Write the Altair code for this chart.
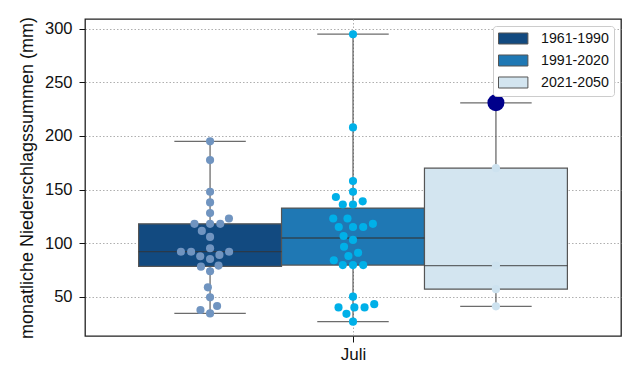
import math
import altair as alt
import pandas as pd

# ---- data ----
periods = ["1961-1990", "1991-2020", "2021-2050"]
juli_1961_1990 = [195, 177.5, 148, 138, 128, 123, 118, 118, 118, 111.4, 105.8, 95.2,
                  92, 92, 92, 89, 87.7, 85.2, 79, 78, 73.7, 58.7, 49.4, 41.3, 37.6, 34.4]
juli_1991_2020 = [295, 208, 158, 148, 143, 139, 136, 136, 123, 123, 118, 115, 115, 115,
                  106.6, 103, 96.6, 91, 88, 84, 79.5, 79.5, 79.5, 50, 43, 40, 40, 40, 34, 26.7]
juli_2021_2050 = [231, 170, 79, 57, 41]
highlight_period = "2021-2050"
highlight_value = 231
month_label = "Juli"
y_ticks = [50, 100, 150, 200, 250, 300]

box_colors = ["#124a80", "#1f78b4", "#d3e5f0"]
point_colors = ["#7094c0", "#00b0e8", "#cde2ef"]

# ---- layout ----
W, H = 536, 317
Y_DOM = [13.3, 309.2]
X_DOM = [-0.5, 0.5]
GW = 0.8 / 3  # width of one hue group

px_per_y = H / (Y_DOM[1] - Y_DOM[0])
x_per_px = (X_DOM[1] - X_DOM[0]) / W


def swarm_offsets(values, d=10.2):
    """Beeswarm placement (seaborn-like): returns x offsets in data units."""
    order = sorted(range(len(values)), key=lambda k: values[k])
    placed = []
    offs = [0.0] * len(values)
    for k in order:
        y = values[k] * px_per_y
        neigh = [(px, py) for px, py in placed if abs(py - y) < d]
        cands = [0.0]
        for px, py in neigh:
            dx = math.sqrt(max(d * d - (py - y) ** 2, 0))
            cands += [px + dx, px - dx]
        cands.sort(key=lambda c: (abs(c), c))
        for c in cands:
            if all((c - px) ** 2 + (y - py) ** 2 >= d * d - 1e-6 for px, py in neigh):
                break
        placed.append((c, y))
        offs[k] = c * x_per_px
    return offs


series = [juli_1961_1990, juli_1991_2020, juli_2021_2050]
rows = []
for i, (p, vals) in enumerate(zip(periods, series)):
    for v, o in zip(vals, swarm_offsets(vals)):
        rows.append({"period": p, "idx": i, "value": v, "swarm": o})
df = pd.DataFrame(rows)

hl = pd.DataFrame({"period": [highlight_period],
                   "idx": [periods.index(highlight_period)],
                   "value": [highlight_value]})

FONT = "Liberation Sans"
LINE = "#333333"
LINE_OP = 0.72
YTITLE = "monatliche Niederschlagssummen (mm)"

xscale = alt.Scale(domain=X_DOM, nice=False, zero=False)
yscale = alt.Scale(domain=Y_DOM, nice=False, zero=False)

xaxis = alt.Axis(values=[0], labelExpr=f"'{month_label}'", title=None, grid=True,
                 gridDash=[1.5, 2], gridColor="#9a9a9a", gridWidth=0.8,
                 tickSize=6, tickColor="#111", labelFontSize=17, labelFont=FONT,
                 labelColor="#111", labelPadding=4, domain=False)
yaxis = alt.Axis(values=y_ticks, title=YTITLE, grid=True,
                 gridDash=[1.5, 2], gridColor="#9a9a9a", gridWidth=0.8,
                 tickSize=6, tickColor="#111", labelFontSize=16.5, labelFont=FONT,
                 labelColor="#111", labelPadding=7, titleFontSize=18, titleFont=FONT,
                 titleFontWeight="normal", titleColor="#111", titlePadding=8, domain=False)


def X(field):
    return alt.X(field, scale=xscale, axis=xaxis, title=None)


def Y(field):
    return alt.Y(field, scale=yscale, axis=yaxis, title=YTITLE)


base = alt.Chart(df)
stats = base.transform_aggregate(
    q1="q1(value)", q3="q3(value)", med="median(value)",
    lo="min(value)", hi="max(value)", groupby=["period", "idx"]
).transform_calculate(
    c=f"(datum.idx - 1) * {GW}",
    l=f"(datum.idx - 1) * {GW} - {GW / 2}",
    r=f"(datum.idx - 1) * {GW} + {GW / 2}",
    cl=f"(datum.idx - 1) * {GW} - {GW / 4}",
    cr=f"(datum.idx - 1) * {GW} + {GW / 4}",
)

whisker = stats.mark_rule(color=LINE, opacity=LINE_OP, strokeWidth=1.3).encode(
    x=X("c:Q"), y=Y("lo:Q"), y2="hi:Q",
)
cap_lo = stats.mark_rule(color=LINE, opacity=LINE_OP, strokeWidth=1.3).encode(
    x=X("cl:Q"), x2="cr:Q", y=Y("lo:Q"),
)
cap_hi = stats.mark_rule(color=LINE, opacity=LINE_OP, strokeWidth=1.3).encode(
    x=X("cl:Q"), x2="cr:Q", y=Y("hi:Q"),
)
box = stats.mark_rect(stroke="#555555", strokeWidth=1.2, opacity=1).encode(
    x=X("l:Q"), x2="r:Q", y=Y("q1:Q"), y2="q3:Q",
    fill=alt.Fill("period:N", scale=alt.Scale(domain=periods, range=box_colors),
                  legend=alt.Legend(title=None)),
)
median = stats.mark_rule(color=LINE, opacity=LINE_OP, strokeWidth=1.3).encode(
    x=X("l:Q"), x2="r:Q", y=Y("med:Q"),
)
points = base.transform_calculate(
    xp=f"(datum.idx - 1) * {GW} + datum.swarm"
).mark_circle(size=66, opacity=1).encode(
    x=X("xp:Q"), y=Y("value:Q"),
    color=alt.Color("period:N", scale=alt.Scale(domain=periods, range=point_colors),
                    legend=None),
)
big = alt.Chart(hl).transform_calculate(
    xp=f"(datum.idx - 1) * {GW}"
).mark_circle(size=290, opacity=1, color="#00008b").encode(
    x=X("xp:Q"), y=Y("value:Q"),
)

chart = alt.layer(whisker, cap_lo, cap_hi, box, median, points, big).properties(
    width=W, height=H,
    autosize=alt.AutoSizeParams(type="none"),
    padding={"left": 77, "top": 11, "right": 11, "bottom": 40},
).configure_view(
    stroke="#222222", strokeWidth=1.3
).configure_legend(
    orient="none", legendX=408, legendY=7,
    symbolType="M-1,-0.786H3.2V0.786H-1Z", symbolSize=196,
    symbolStrokeColor="#555555", symbolStrokeWidth=1, symbolOpacity=1,
    labelFont=FONT, labelFontSize=14.2, labelColor="#111", labelOffset=28,
    fillColor="white", strokeColor="#cccccc", cornerRadius=3, padding=5,
    rowPadding=5,
)

chart.save("out.html", embed_options={"renderer": "svg", "actions": False})
